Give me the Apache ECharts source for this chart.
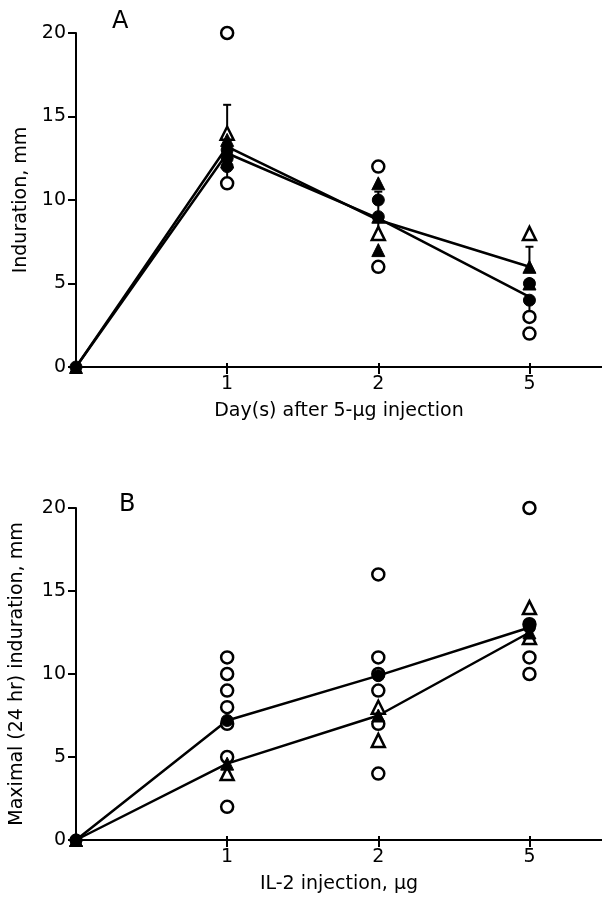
<!DOCTYPE html>
<html>
<head>
<meta charset="utf-8">
<script src="https://cdn.jsdelivr.net/npm/echarts@6/dist/echarts.min.js"></script>
<style>
html,body{margin:0;padding:0;background:#fff;}
#chart{width:602px;height:898px;}
</style>
</head>
<body>
<div id="chart"></div>
<script>
// ---- Data ----
// x positions are category indices: 0 = origin, 1..3 = tick labels below
const tickLabelsA = ['1', '2', '5'];
const tickLabelsB = ['1', '2', '5'];

// Panel A: induration after 5-ug injection
const meanA1 = [0, 13.2, 8.8, 6.0];
const meanA2 = [0, 12.8, 8.9, 4.2];
const openCirclesA = [[1, 20], [1, 11], [2, 12], [2, 6], [3, 3], [3, 2]];
const openTrianglesA = [[1, 14], [2, 8], [3, 8]];
const filledCirclesA = [[0, 0], [1, 12], [1, 12.5], [1, 13], [2, 10], [2, 9], [3, 5], [3, 4]];
const filledTrianglesA = [[0, 0], [1, 12.3], [1, 13], [1, 13.6], [2, 11], [2, 9], [2, 7], [3, 6], [3, 5]];
const errorBarsA = [[1, 11.3, 15.7], [2, 7.6, 10.5], [3, 6.0, 7.2], [3, 3.0, 4.2]];

// Panel B: maximal (24 hr) induration vs IL-2 dose
const meanB1 = [0, 7.2, 9.9, 12.8];
const meanB2 = [0, 4.6, 7.5, 12.5];
const openCirclesB = [[1, 11], [1, 10], [1, 9], [1, 8], [1, 7], [1, 5], [1, 2],
  [2, 16], [2, 11], [2, 10], [2, 9], [2, 7], [2, 4],
  [3, 20], [3, 13], [3, 11], [3, 10]];
const openTrianglesB = [[1, 4], [2, 8], [2, 6], [3, 14], [3, 12.2]];
const filledCirclesB = [[0, 0], [3, 13]];
const filledTrianglesB = [[0, 0]];

const idx = [0, 1, 2, 3];
const pairs = (arr) => idx.map(i => [i, arr[i]]);

const chart = echarts.init(document.getElementById('chart'), null, {renderer: 'canvas'});
const FONT = 'DejaVu Sans, Liberation Sans, Arial, sans-serif';
const BLACK = '#000';
const TRI = 'path://M0,-10L8.66,5L-8.66,5Z';

function xAxes(gridIndex, labels, name) {
  return [{
    gridIndex: gridIndex, type: 'value', min: 0, max: 3.48,
    name: name, nameLocation: 'middle', nameGap: 35,
    nameTextStyle: {fontFamily: FONT, fontSize: 19, color: BLACK},
    axisLine: {show: true, onZero: false, lineStyle: {color: BLACK, width: 2}},
    axisTick: {show: true, inside: false, length: 7, lineStyle: {color: BLACK, width: 2}, customValues: [1, 2, 3]},
    axisLabel: {show: true, margin: 8, fontFamily: FONT, fontSize: 19, color: BLACK,
      customValues: [1, 2, 3], formatter: v => labels[Math.round(v) - 1] || ''},
    splitLine: {show: false}
  }, {
    gridIndex: gridIndex, type: 'value', min: 0, max: 3.48, position: 'bottom',
    axisLine: {show: false, onZero: false},
    axisTick: {show: true, inside: true, length: 4, lineStyle: {color: BLACK, width: 2}, customValues: [1, 2, 3]},
    axisLabel: {show: false},
    splitLine: {show: false}
  }];
}

function yAxis(gridIndex, name, gap) {
  return {
    gridIndex: gridIndex, type: 'value', min: 0, max: 20, interval: 5,
    name: name, nameLocation: 'middle', nameGap: gap,
    nameTextStyle: {fontFamily: FONT, fontSize: 19, color: BLACK},
    axisLine: {show: true, onZero: false, lineStyle: {color: BLACK, width: 2}},
    axisTick: {show: true, inside: false, length: 8, lineStyle: {color: BLACK, width: 2}},
    axisLabel: {margin: 10, fontFamily: FONT, fontSize: 19, color: BLACK},
    splitLine: {show: false}
  };
}

function scatter(xi, yi, data, symbol, filled, size) {
  return {
    type: 'scatter', xAxisIndex: xi, yAxisIndex: yi, data: data,
    symbol: symbol, symbolSize: size,
    itemStyle: filled ? {color: BLACK, borderColor: BLACK, borderWidth: 1, opacity: 1}
                      : {color: '#fff', borderColor: BLACK, borderWidth: 2.5, opacity: 1},
    z: filled ? 5 : 4, silent: true
  };
}

function meanLine(xi, yi, arr) {
  return {
    type: 'line', xAxisIndex: xi, yAxisIndex: yi, data: pairs(arr),
    symbol: 'none', lineStyle: {color: BLACK, width: 2.5}, z: 3, silent: true
  };
}

function errorBars(xi, yi, data) {
  return {
    type: 'custom', xAxisIndex: xi, yAxisIndex: yi, data: data, z: 3, silent: true,
    encode: {x: 0, y: [1, 2]},
    renderItem: function (params, api) {
      const x = api.value(0);
      const lo = api.coord([x, api.value(1)]);
      const hi = api.coord([x, api.value(2)]);
      return {
        type: 'group', children: [
          {type: 'line', shape: {x1: lo[0], y1: lo[1], x2: hi[0], y2: hi[1]}, style: {stroke: BLACK, lineWidth: 2}},
          {type: 'line', shape: {x1: hi[0] - 4, y1: hi[1], x2: hi[0] + 4, y2: hi[1]}, style: {stroke: BLACK, lineWidth: 2}}
        ]
      };
    }
  };
}

const option = {
  backgroundColor: '#fff',
  animation: false,
  grid: [
    {left: 76, top: 33, right: 0, height: 334},
    {left: 76, top: 508, right: 0, height: 332}
  ],
  title: [
    {text: 'A', left: 107, top: 5, textStyle: {fontFamily: FONT, fontSize: 24, fontWeight: 'normal', color: BLACK}},
    {text: 'B', left: 114, top: 488, textStyle: {fontFamily: FONT, fontSize: 24, fontWeight: 'normal', color: BLACK}}
  ],
  xAxis: [].concat(
    xAxes(0, tickLabelsA, 'Day(s) after 5-\u03bcg injection'),
    xAxes(1, tickLabelsB, 'IL-2 injection, \u03bcg')
  ),
  yAxis: [
    yAxis(0, 'Induration, mm', 45),
    yAxis(1, 'Maximal (24 hr) induration, mm', 49)
  ],
  series: [
    // Panel A
    meanLine(0, 0, meanA1),
    meanLine(0, 0, meanA2),
    errorBars(0, 0, errorBarsA),
    scatter(0, 0, openCirclesA, 'circle', false, 12),
    scatter(0, 0, openTrianglesA, TRI, false, 13),
    scatter(0, 0, filledCirclesA, 'circle', true, 12),
    scatter(0, 0, filledTrianglesA, TRI, true, 13),
    // Panel B
    meanLine(2, 1, meanB1),
    meanLine(2, 1, meanB2),
    scatter(2, 1, openCirclesB, 'circle', false, 12),
    scatter(2, 1, openTrianglesB, TRI, false, 13),
    scatter(2, 1, pairs(meanB1), 'circle', true, 12),
    scatter(2, 1, pairs(meanB2), TRI, true, 13),
    scatter(2, 1, filledCirclesB, 'circle', true, 12),
    scatter(2, 1, filledTrianglesB, TRI, true, 13)
  ]
};
chart.setOption(option);
</script>
</body>
</html>
